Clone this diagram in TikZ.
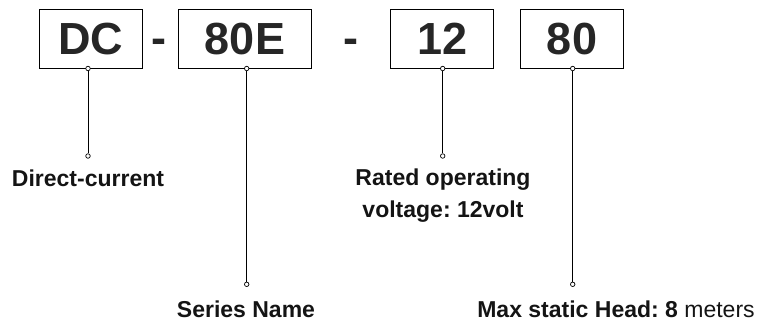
\documentclass[tikz,border=0pt]{standalone}
\usepackage{fontspec}
\setmainfont{Liberation Sans}
\frenchspacing
\begin{document}
\begin{tikzpicture}[x=1pt,y=-1pt,
  codebox/.style={draw,line width=1.2pt,minimum height=59pt,inner sep=0pt,text=black!85,font=\fontsize{45}{54}\selectfont\bfseries},
  sepchar/.style={inner sep=0pt,text=black!85,font=\fontsize{45}{54}\selectfont\bfseries},
  pin/.style={circle,draw,fill=white,line width=0.7pt,inner sep=0pt,minimum size=4.5pt},
  lbl/.style={inner sep=0pt,text=black!92,font=\fontsize{23}{32}\selectfont\bfseries,align=center}]

\useasboundingbox (0,0) rectangle (760,325);

% -- code boxes
\node [codebox,minimum width=103pt] (dc) at (91,38.8) {DC};
\node [codebox,minimum width=133pt] (series) at (245,38.8) {80E};
\node [codebox,minimum width=103pt] (volt) at (442.2,38.8) {12};
\node [codebox,minimum width=103pt] (head) at (572,38.8) {80};

% -- separators
\node [sepchar,anchor=base] (sepA) at (159,53) {-};
\node [sepchar,anchor=base] (sepB) at (351,53) {-};

% -- pins
\node [pin] (dcTop) at (88,68.5) {};
\node [pin] (dcEnd) at (88,156) {};
\node [pin] (seriesTop) at (246.7,68.5) {};
\node [pin] (seriesEnd) at (246.7,284.3) {};
\node [pin] (voltTop) at (442.7,68.5) {};
\node [pin] (voltEnd) at (442.7,156) {};
\node [pin] (headTop) at (572.7,68.5) {};
\node [pin] (headEnd) at (572.7,284.3) {};

% -- draw leaders
\draw[line width=0.8pt] (dcTop) -- (dcEnd);
\draw[line width=0.8pt] (seriesTop) -- (seriesEnd);
\draw[line width=0.8pt] (voltTop) -- (voltEnd);
\draw[line width=0.8pt] (headTop) -- (headEnd);

% -- labels
\node [lbl,anchor=base] (dcLbl) at (88,186) {Direct-current};
\node [lbl,anchor=north] (voltLbl) at (443,169) {Rated operating\\voltage: 12volt};
\node [lbl,anchor=base] (seriesLbl) at (246,317) {Series Name};
\node [lbl,anchor=base] (headLbl) at (616,317) {Max static Head: 8 \mdseries meters};
\end{tikzpicture}
\end{document}
